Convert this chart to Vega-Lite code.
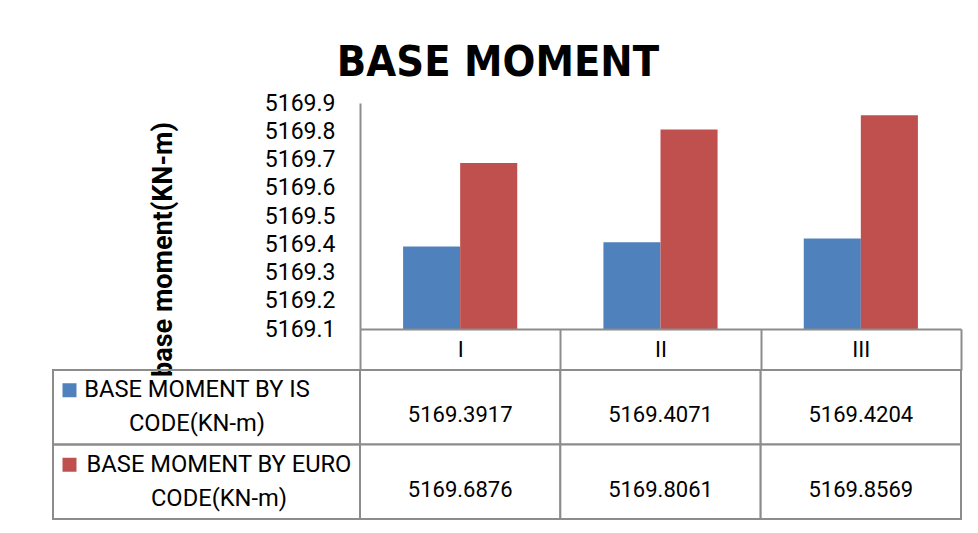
{
  "$schema": "https://vega.github.io/schema/vega-lite/v6.json",
  "background": "white",
  "padding": {"left": 52, "top": 42, "right": 5, "bottom": 5},
  "title": {"text": "BASE MOMENT", "font": "DejaVu Sans Condensed, sans-serif", "fontSize": 43, "fontWeight": "bold", "color": "black", "anchor": "middle", "dx": -9, "offset": 7},
  "config": {"view": {"stroke": null}, "font": "Roboto", "text": {"font": "Roboto"}},
  "datasets": {
    "moments": [
      {"model": "I", "series": "IS", "value": 5169.3917},
      {"model": "II", "series": "IS", "value": 5169.4071},
      {"model": "III", "series": "IS", "value": 5169.4204},
      {"model": "I", "series": "EURO", "value": 5169.6876},
      {"model": "II", "series": "EURO", "value": 5169.8061},
      {"model": "III", "series": "EURO", "value": 5169.8569}
    ],
    "series": [
      {"series": "IS", "label": "BASE MOMENT BY IS\nCODE(KN-m)"},
      {"series": "EURO", "label": "BASE MOMENT BY EURO\nCODE(KN-m)"}
    ]
  },
  "columns": 2,
  "spacing": {"row": 41, "column": 0},
  "bounds": "flush",
  "concat": [
    {
      "width": 307, "height": 226,
      "data": {"values": [{}]},
      "mark": {"type": "text", "text": ""},
      "encoding": {}
    },
    {
      "width": 601, "height": 226,
      "data": {"name": "moments"},
      "mark": {"type": "bar", "clip": true},
      "encoding": {
        "x": {"field": "model", "type": "nominal", "sort": ["I", "II", "III"],
          "scale": {"paddingInner": 0, "paddingOuter": 0},
          "axis": {"title": null, "labelAngle": 0, "labelFontSize": 22, "labelColor": "black", "labelFont": "Roboto",
            "ticks": true, "tickBand": "extent", "tickSize": 41, "tickColor": "#8c8c8c", "tickWidth": 2,
            "domainColor": "#8c8c8c", "domainWidth": 2, "labelBaseline": "middle", "labelPadding": -20.5, "grid": false, "zindex": 1}},
        "xOffset": {"field": "series", "type": "nominal", "sort": ["IS", "EURO"], "scale": {"paddingInner": 0, "paddingOuter": 0.755}},
        "y": {"field": "value", "type": "quantitative",
          "scale": {"domain": [5169.1, 5169.9], "zero": false, "nice": false},
          "axis": {"values": [5169.1, 5169.2, 5169.3, 5169.4, 5169.5, 5169.6, 5169.7, 5169.8, 5169.9], "format": ".1f",
            "grid": false, "ticks": false, "labelFontSize": 23, "labelColor": "black", "labelPadding": 25, "labelFont": "Roboto",
            "domainColor": "#8c8c8c", "domainWidth": 2,
            "title": "base moment(KN-m)", "titleFont": "Roboto", "titleFontSize": 27, "titleFontWeight": "bold", "titleColor": "black",
            "titleX": -197, "titleY": 146, "titleAlign": "center", "titleBaseline": "middle", "titleAngle": 270}},
        "color": {"field": "series", "type": "nominal", "scale": {"domain": ["IS", "EURO"], "range": ["#4F81BD", "#C0504D"]}, "legend": null}
      }
    },
    {
      "width": 307, "height": 149,
      "data": {"name": "series"},
      "encoding": {
        "y": {"field": "series", "type": "nominal", "sort": ["IS", "EURO"], "scale": {"paddingInner": 0, "paddingOuter": 0}, "axis": null}
      },
      "layer": [
        {"mark": {"type": "rect", "fill": "transparent", "stroke": "#8c8c8c", "strokeWidth": 2},
          "encoding": {"x": {"value": 0}, "x2": {"value": "width"}}},
        {"mark": {"type": "square", "size": 196, "opacity": 1, "yOffset": -17},
          "encoding": {"x": {"value": 16.5},
            "color": {"field": "series", "type": "nominal", "scale": {"domain": ["IS", "EURO"], "range": ["#4F81BD", "#C0504D"]}, "legend": null}}},
        {"mark": {"type": "text", "fontSize": 23.7, "lineBreak": "\n", "lineHeight": 34, "align": "center", "baseline": "middle", "color": "black", "font": "Roboto", "dy": -17},
          "encoding": {"x": {"field": "series", "type": "nominal", "scale": {"type": "point", "domain": ["IS", "EURO"], "range": [144, 166], "padding": 0}, "axis": null},
            "text": {"field": "label", "type": "nominal"}}}
      ]
    },
    {
      "width": 601, "height": 149,
      "data": {"name": "moments"},
      "encoding": {
        "x": {"field": "model", "type": "nominal", "sort": ["I", "II", "III"], "scale": {"paddingInner": 0, "paddingOuter": 0}, "axis": null},
        "y": {"field": "series", "type": "nominal", "sort": ["IS", "EURO"], "scale": {"paddingInner": 0, "paddingOuter": 0}, "axis": null}
      },
      "layer": [
        {"mark": {"type": "rect", "fill": "white", "stroke": "#8c8c8c", "strokeWidth": 2}},
        {"mark": {"type": "text", "fontSize": 22, "color": "black", "font": "Roboto", "baseline": "middle", "dy": 8},
          "encoding": {"text": {"field": "value", "type": "quantitative", "format": ".4f"}}}
      ]
    }
  ]
}
